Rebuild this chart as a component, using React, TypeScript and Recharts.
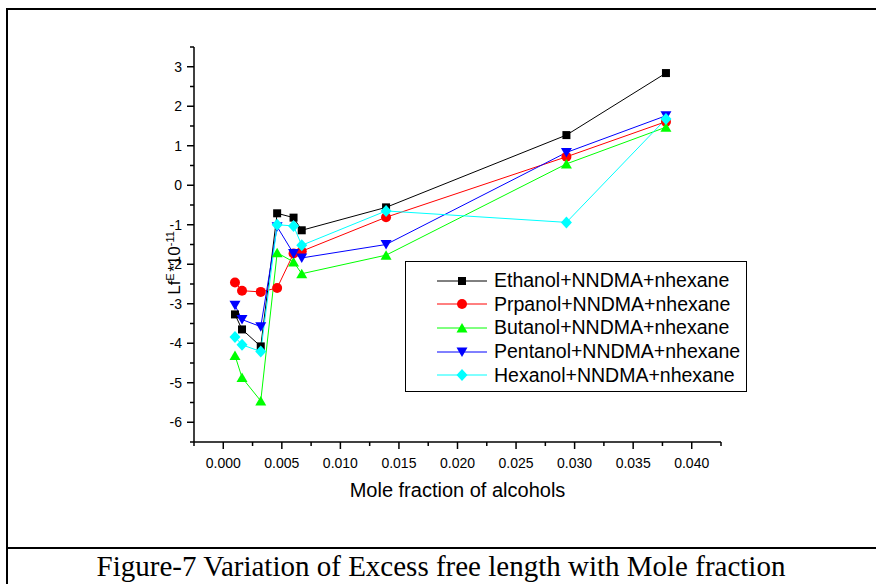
import { LineChart, Line, XAxis, YAxis, Legend } from 'recharts';

// mole fraction of alcohol, same for all five systems
const moleFraction = [0.001, 0.0016, 0.0032, 0.0046, 0.006, 0.0067, 0.0139, 0.0293, 0.0378];

// Lf^E * 10^-11
const ethanol = [-3.27, -3.65, -4.08, -0.71, -0.82, -1.14, -0.56, 1.27, 2.84];
const propanol = [-2.46, -2.67, -2.7, -2.6, -1.73, -1.67, -0.81, 0.72, 1.61];
const butanol = [-4.31, -4.87, -5.46, -1.71, -1.94, -2.24, -1.77, 0.54, 1.47];
const pentanol = [-3.04, -3.4, -3.58, -1.05, -1.73, -1.84, -1.5, 0.83, 1.76];
const hexanol = [-3.84, -4.04, -4.21, -1.0, -1.03, -1.52, -0.65, -0.94, 1.68];

const xMajor = [0, 0.005, 0.01, 0.015, 0.02, 0.025, 0.03, 0.035, 0.04];
const xMinor = [-0.0025, 0.0025, 0.0075, 0.0125, 0.0175, 0.0225, 0.0275, 0.0325, 0.0375, 0.0425];
const yMajor = [-6, -5, -4, -3, -2, -1, 0, 1, 2, 3];
const yMinor = [-6.5, -5.5, -4.5, -3.5, -2.5, -1.5, -0.5, 0.5, 1.5, 2.5, 3.5];

const series = [
  { name: 'Ethanol+NNDMA+nhexane', values: ethanol, color: '#000000', shape: 'square' },
  { name: 'Prpanol+NNDMA+nhexane', values: propanol, color: '#ff0000', shape: 'circle' },
  { name: 'Butanol+NNDMA+nhexane', values: butanol, color: '#00ff00', shape: 'up' },
  { name: 'Pentanol+NNDMA+nhexane', values: pentanol, color: '#0000ff', shape: 'down' },
  { name: 'Hexanol+NNDMA+nhexane', values: hexanol, color: '#00ffff', shape: 'diamond' },
];

const FONT = '"Liberation Sans", Arial, sans-serif';

function Marker({ shape, cx, cy, color }: { shape: string; cx: number; cy: number; color: string }) {
  if (shape === 'square') return <rect x={cx - 4} y={cy - 4} width={8} height={8} fill={color} />;
  if (shape === 'circle') return <circle cx={cx} cy={cy} r={5} fill={color} />;
  if (shape === 'up')
    return <polygon points={`${cx - 5.5},${cy + 4.5} ${cx + 5.5},${cy + 4.5} ${cx},${cy - 5}`} fill={color} />;
  if (shape === 'down')
    return <polygon points={`${cx - 5.5},${cy - 4.5} ${cx + 5.5},${cy - 4.5} ${cx},${cy + 5}`} fill={color} />;
  return <polygon points={`${cx},${cy - 6} ${cx + 5.5},${cy} ${cx},${cy + 6} ${cx - 5.5},${cy}`} fill={color} />;
}

const isIn = (list: number[], v: number) => list.some((t) => Math.abs(t - v) < 1e-9);

function XTick(props: any) {
  const { x, y, payload } = props;
  const major = isIn(xMajor, payload.value);
  return (
    <g>
      <line x1={x} y1={y} x2={x} y2={y + (major ? 7 : 4)} stroke="#000" strokeWidth={1.5} />
      {major && (
        <text x={x} y={y + 26} textAnchor="middle" fontSize={14} fontFamily={FONT} fill="#000">
          {payload.value.toFixed(3)}
        </text>
      )}
    </g>
  );
}

function YTick(props: any) {
  const { x, y, payload } = props;
  const major = isIn(yMajor, payload.value);
  return (
    <g>
      <line x1={x} y1={y} x2={x - (major ? 7 : 4)} y2={y} stroke="#000" strokeWidth={1.5} />
      {major && (
        <text x={x - 12} y={y + 5} textAnchor="end" fontSize={14} fontFamily={FONT} fill="#000">
          {payload.value}
        </text>
      )}
    </g>
  );
}

// legend keeps the plotting order of the series
function renderLegend() {
  return (
    <div
      style={{
        width: 342,
        height: 131,
        boxSizing: 'border-box',
        border: '1.5px solid #000',
        background: '#fff',
        paddingTop: 7,
        fontFamily: FONT,
        fontSize: 19.5,
      }}
    >
      {series.map((s) => (
        <div key={s.name} style={{ display: 'flex', alignItems: 'center', height: 23.6 }}>
          <svg width={88} height={20} style={{ flex: 'none' }}>
            <line x1={31} y1={10} x2={81} y2={10} stroke={s.color} strokeWidth={1} />
            <Marker shape={s.shape} cx={56} cy={10} color={s.color} />
          </svg>
          <span style={{ whiteSpace: 'nowrap' }}>{s.name}</span>
        </div>
      ))}
    </div>
  );
}

export default function App() {
  return (
    <div style={{ position: 'absolute', left: 0, top: 0, width: 876, height: 584, background: '#fff', overflow: 'hidden' }}>
      <div
        style={{
          position: 'absolute', left: 6, top: 8, width: 900, height: 600,
          borderTop: '2px solid #000', borderLeft: '2px solid #000',
        }}
      />
      <div style={{ position: 'absolute', left: 6, top: 547, width: 900, borderTop: '2px solid #000' }} />
      <div
        style={{
          position: 'absolute', left: 6, top: 548, width: 870, textAlign: 'center', lineHeight: '36px',
          fontFamily: '"Liberation Serif", "Times New Roman", serif', fontSize: 29, color: '#000',
        }}
      >
        Figure-7 Variation of Excess free length with Mole fraction
      </div>

      <div style={{ position: 'absolute', left: 0, top: 0 }}>
        <LineChart width={876} height={545} margin={{ top: 47, right: 155, bottom: 73, left: 154 }}>
          <XAxis
            dataKey="x"
            type="number"
            domain={[-0.0025, 0.0425]}
            ticks={[...xMinor, ...xMajor].sort((a, b) => a - b)}
            interval={0}
            height={30}
            tickSize={0}
            tickMargin={0}
            tickLine={false}
            tick={<XTick />}
            axisLine={{ stroke: '#000', strokeWidth: 1.5 }}
            allowDataOverflow
            label={(p: any) => {
              const vb = p.viewBox;
              return (
                <text x={vb.x + vb.width / 2} y={vb.y + 55} textAnchor="middle" fontSize={20} fontFamily={FONT} fill="#000">
                  Mole fraction of alcohols
                </text>
              );
            }}
          />
          <YAxis
            type="number"
            domain={[-6.5, 3.5]}
            ticks={[...yMinor, ...yMajor].sort((a, b) => a - b)}
            interval={0}
            width={40}
            tickSize={0}
            tickMargin={0}
            tickLine={false}
            tick={<YTick />}
            axisLine={{ stroke: '#000', strokeWidth: 1.5 }}
            allowDataOverflow
            label={(p: any) => {
              const vb = p.viewBox;
              const cx = vb.x + 26;
              const cy = vb.y + 216;
              return (
                <text x={cx} y={cy} transform={`rotate(-90 ${cx} ${cy})`} textAnchor="middle" fontSize={17} fontFamily={FONT} fill="#000">
                  Lf
                  <tspan baselineShift="super" fontSize={11}>E</tspan>
                  <tspan dx={1.5}>*10</tspan>
                  <tspan baselineShift="super" fontSize={11}>-11</tspan>
                </text>
              );
            }}
          />
          <Legend
            layout="vertical"
            align="center"
            verticalAlign="middle"
            content={renderLegend}
            wrapperStyle={{ left: 405, top: 261, width: 342, height: 131 }}
          />
          {series.map((s) => (
            <Line
              key={s.name}
              name={s.name}
              data={moleFraction.map((x, i) => ({ x, y: s.values[i] }))}
              dataKey="y"
              type="linear"
              stroke={s.color}
              strokeWidth={1}
              isAnimationActive={false}
              dot={(p: any) => <Marker key={`${s.name}-${p.index}`} shape={s.shape} cx={p.cx} cy={p.cy} color={s.color} />}
              activeDot={false}
            />
          ))}
        </LineChart>
      </div>
    </div>
  );
}
